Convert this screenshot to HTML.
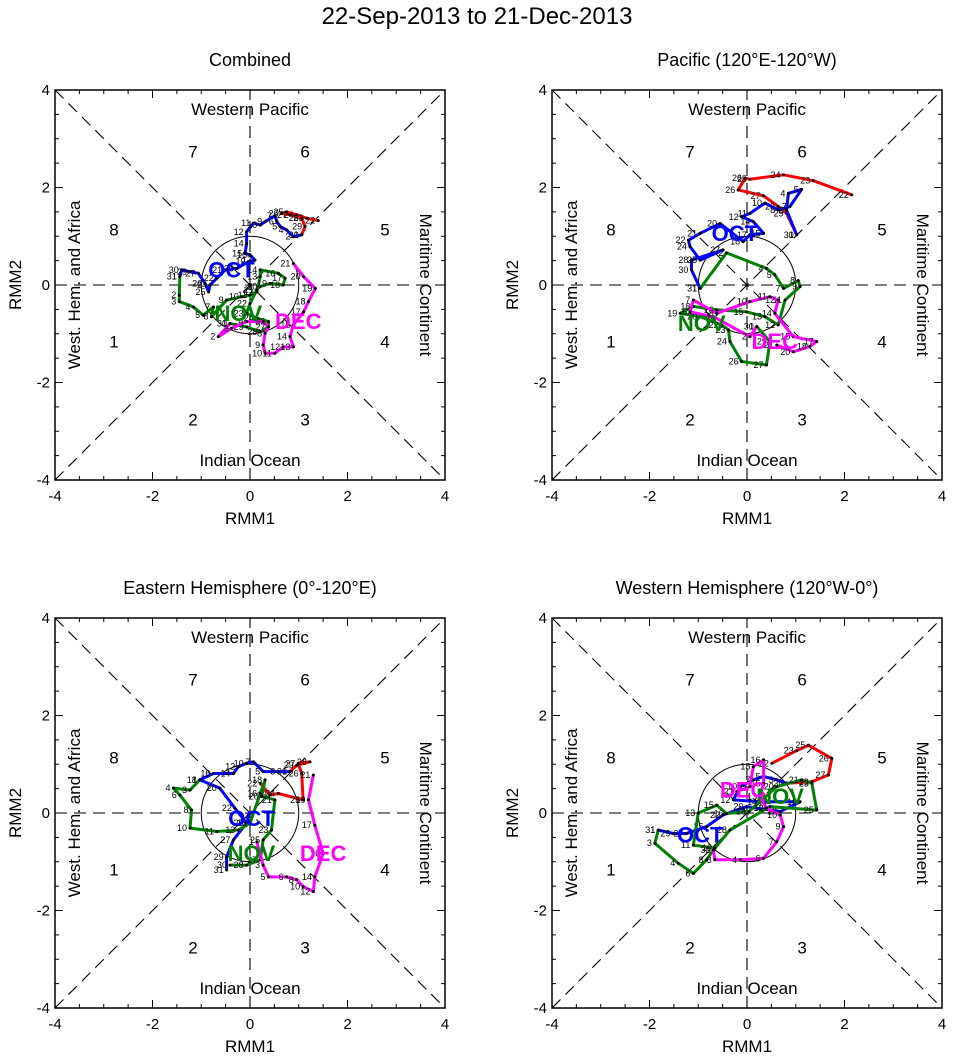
<!DOCTYPE html>
<html><head><meta charset="utf-8"><style>
body{margin:0;background:#fff;}
svg{display:block;font-family:"Liberation Sans",sans-serif;}
</style></head><body>
<svg id="c" width="954" height="1061" viewBox="0 0 954 1061">
<text x="477" y="24" font-size="24" text-anchor="middle">22-Sep-2013 to 21-Dec-2013</text>
</svg>
<script>
// Panel titles
const panelTitles = ["Combined","Pacific (120°E-120°W)","Eastern Hemisphere (0°-120°E)","Western Hemisphere (120°W-0°)"];
const tickVals = [-4,-2,0,2,4];
const tickLabels = ["-4","-2","0","2","4"];
const monthNames = ["SEP","OCT","NOV","DEC"];
const monthColors = ["#ff0000","#0000ff","#008000","#ff00ff"];
const monthStartDay = [22,1,1,1];
const monthEndDay = [30,31,30,21];

// Panel 1: Combined
const p1Sep = [[1.40,1.32],[1.16,1.37],[0.96,1.44],[0.75,1.50],[0.65,1.47],[0.82,1.44],[1.06,1.37],[1.13,1.20],[1.06,1.03]];
const p1Oct = [[1.06,1.03],[0.89,0.99],[0.75,1.13],[0.62,1.20],[0.55,1.30],[0.51,1.42],[0.31,1.30],[0.21,1.23],[0.07,1.27],[-0.07,1.09],[-0.07,0.85],[-0.10,0.65],[0,0.62],[0.10,0.51],[-0.03,0.48],[-0.27,0.34],[-0.51,0.31],[-0.68,0.14],[-0.82,0],[-0.85,-0.14],[-0.92,0.03],[-1.06,0.24],[-1.23,0.27],[-1.40,0.31],[-1.44,0.17]];
const p1Nov = [[-1.44,0.17],[-1.45,-0.21],[-1.45,-0.34],[-1.16,-0.45],[-0.96,-0.62],[-0.75,-0.45],[-0.79,-0.65],[-0.48,-0.31],[-0.17,-0.24],[0,-0.21],[0.14,-0.14],[0.21,0.17],[0.21,0.31],[0.58,0.24],[0.72,0.14],[0.68,0],[0.41,0.03],[0.21,-0.03],[0.14,-0.10],[0,-0.38],[-0.07,-0.58],[0.14,-0.68],[0.38,-0.75],[0.38,-0.86],[0.21,-0.96],[-0.07,-0.86],[-0.41,-0.79]];
const p1Dec = [[-0.41,-0.79],[-0.65,-1.06],[-0.38,-0.89],[-0.07,-0.75],[0.27,-0.75],[0.38,-0.86],[0.31,-0.99],[0.27,-1.23],[0.31,-1.40],[0.51,-1.40],[0.68,-1.27],[0.89,-1.27],[0.82,-1.06],[0.89,-0.82],[1.10,-0.55],[1.20,-0.34],[1.34,-0.07],[1.10,0.17],[0.89,0.44]];
const p1Labels = [[-0.38,0.31],[-0.24,-0.58],[0.99,-0.75]];

// Panel 2: Pacific
const p2Sep = [[2.15,1.85],[1.36,2.14],[0.75,2.26],[0.06,2.17],[-0.04,2.19],[-0.18,1.95],[0.34,1.83],[0.64,1.61],[0.81,1.47],[1.02,1.03]];
const p2Oct = [[1.02,1.03],[0.81,1.54],[0.85,1.88],[1.12,1.96],[0.88,1.61],[0.64,1.54],[0.37,1.68],[0.06,1.47],[-0.11,1.40],[0.13,1.30],[0.34,1.06],[0.06,1.03],[-0.08,0.89],[-0.55,1.26],[-0.96,1.06],[-1.20,0.92],[-1.17,0.79],[-0.96,0.51],[-0.49,0.72],[-1.14,0.51],[-1.14,0.31],[-0.96,-0.07]];
const p2Nov = [[-0.96,-0.07],[-0.42,0.66],[0.40,0.34],[0.57,0.21],[0.75,-0.07],[1.05,0.09],[1.09,-0.03],[0.78,-0.31],[0.64,-0.82],[0.37,-0.65],[-0.01,-0.55],[-0.62,-0.51],[-1.10,-0.44],[-1.37,-0.58],[-0.96,-0.65],[-0.52,-0.82],[-0.38,-0.92],[-0.35,-1.16],[-0.11,-1.57],[0.40,-1.64],[0.47,-1.16],[0.20,-0.85]];
const p2Dec = [[0.20,-0.85],[0.06,-1.06],[-0.69,-0.65],[-1.17,-0.55],[-1.10,-0.31],[-0.62,-0.58],[0.06,-0.34],[0.47,-0.24],[0.64,-0.31],[0.57,-0.58],[0.95,-1.06],[1.43,-1.16],[1.29,-1.26],[0.95,-1.37],[0.61,-1.23]];
const p2Labels = [[-0.25,1.06],[-0.93,-0.79],[0.57,-1.16]];

// Panel 3: Eastern Hemisphere
const p3Sep = [[0.21,0.61],[0.41,0.37],[0.58,0.40],[1.09,0.27],[1.06,0.81],[0.99,1.02],[1.23,1.05],[0.96,0.98],[0.82,0.85]];
const p3Oct = [[0.82,0.85],[0.58,0.85],[0.27,0.85],[0.07,1.05],[-0.07,1.02],[-0.24,0.95],[-0.34,0.81],[-0.75,0.81],[-1.03,0.68],[-0.62,0.51],[-0.31,0.10],[-0.07,-0.21],[-0.34,-0.55],[-0.48,-0.90],[-0.48,-1.17]];
const p3Nov = [[-1.03,0.68],[-1.23,0.47],[-1.57,0.51],[-1.44,0.37],[-1.20,0.06],[-1.23,-0.31],[-0.68,-0.38],[-0.24,-0.35],[0,-0.21],[0.21,0.40],[0.31,0.68],[0.24,0.34],[0.51,0.27],[0.44,-0.35],[0.27,-0.55],[0.21,-0.96],[-0.07,-1.07],[-0.41,-1.07]];
const p3Dec = [[0.14,-0.59],[0.27,-1.07],[0.38,-1.31],[0.75,-1.31],[0.96,-1.37],[1.09,-1.51],[1.30,-1.61],[1.33,-1.31],[1.50,-0.83],[1.33,-0.25],[1.20,0.27],[1.30,0.78]];
const p3Labels = [[0.03,-0.11],[0.03,-0.83],[1.50,-0.83]];

// Panel 4: Western Hemisphere
const p4Sep = [[0.51,1.02],[1.02,1.28],[1.26,1.39],[1.74,1.12],[1.67,0.78],[1.33,0.64],[0.81,0.61]];
const p4Oct = [[0.81,0.61],[0.61,0.68],[0.34,0.75],[0.13,0.68],[-0.14,0.54],[-0.28,0.27],[0.27,0.23],[1.09,0.23],[0.68,0.03],[-0.01,0.13],[-0.49,-0.04],[-0.83,-0.28],[-1.24,-0.42],[-1.51,-0.42],[-1.82,-0.35]];
const p4Nov = [[-1.82,-0.35],[-1.89,-0.62],[-1.41,-1.03],[-1.10,-1.24],[-0.83,-0.96],[-0.66,-0.72],[-1.10,-0.66],[-1.00,0],[-0.62,0.16],[-0.42,-0.01],[0.04,0.03],[0.61,0.54],[1.12,0.68],[1.33,0.61],[1.43,0.06],[0.47,0.13],[-0.35,-0.35],[-0.69,-0.76]];
const p4Dec = [[-0.69,-0.76],[-0.66,-0.96],[-0.14,-0.96],[0.34,-0.93],[0.61,-0.59],[0.75,-0.28],[0.68,-0.04],[0.40,0.10],[0.27,0.34],[0.34,0.61],[0.34,1.09],[0.13,0.95],[0.06,0.54],[-0.21,0.44]];
const p4Labels = [[-0.96,-0.45],[0.68,0.34],[-0.08,0.47]];

const panels = [
  {left:55, top:90, series:[p1Sep,p1Oct,p1Nov,p1Dec], labels:p1Labels},
  {left:552, top:90, series:[p2Sep,p2Oct,p2Nov,p2Dec], labels:p2Labels},
  {left:55, top:618, series:[p3Sep,p3Oct,p3Nov,p3Dec], labels:p3Labels},
  {left:552, top:618, series:[p4Sep,p4Oct,p4Nov,p4Dec], labels:p4Labels}
];
const SIZE = 390;
const svg = document.getElementById('c');
const NS = "http://www.w3.org/2000/svg";
function mk(tag, attrs, parent){const e=document.createElementNS(NS,tag);for(const k in attrs)e.setAttribute(k,attrs[k]);(parent||svg).appendChild(e);return e;}

panels.forEach((p,pi)=>{
  const sx = v => p.left + (v+4)/8*SIZE;
  const sy = v => p.top + (4-v)/8*SIZE;
  const g = mk('g',{});
  
  
  const t = mk('text',{x:p.left+SIZE/2,y:p.top-24,'font-size':18,'text-anchor':'middle'},g);
  t.textContent = panelTitles[pi];
  
  
  const dash = {stroke:'#000','stroke-width':1.1,'stroke-dasharray':'12,7',fill:'none'};
  [[-4,-4,4,4],[-4,4,4,-4],[-4,0,4,0],[0,-4,0,4]].forEach(l=>{
    const ln = mk('line',Object.assign({x1:sx(l[0]),y1:sy(l[1]),x2:sx(l[2]),y2:sy(l[3])},dash),g);
    
    
  });
  const c = mk('circle',{cx:sx(0),cy:sy(0),r:SIZE/8,fill:'none',stroke:'#000','stroke-width':1},g);
  
  
  const fr = mk('rect',{x:p.left,y:p.top,width:SIZE,height:SIZE,fill:'none',stroke:'#000','stroke-width':1.5},g);
  
  
  for(let v=-4; v<=4.001; v+=0.5){
    const major = Math.abs(v-Math.round(v/2)*2)<0.01;
    const L = major?8:4;
    mk('line',{x1:sx(v),y1:p.top+SIZE,x2:sx(v),y2:p.top+SIZE-L,stroke:'#000'},g);
    mk('line',{x1:sx(v),y1:p.top,x2:sx(v),y2:p.top+L,stroke:'#000'},g);
    mk('line',{x1:p.left,y1:sy(v),x2:p.left+L,y2:sy(v),stroke:'#000'},g);
    mk('line',{x1:p.left+SIZE,y1:sy(v),x2:p.left+SIZE-L,y2:sy(v),stroke:'#000'},g);
  }
  tickVals.forEach((v,i)=>{
    const tx = mk('text',{x:sx(v),y:p.top+SIZE+21,'font-size':15,'text-anchor':'middle'},g);
    tx.textContent = tickLabels[i];
    
    
    const ty = mk('text',{x:p.left-5,y:sy(v)+5,'font-size':15,'text-anchor':'end'},g);
    ty.textContent = tickLabels[i];
    
    
  });
  const xt = mk('text',{x:sx(0),y:p.top+SIZE+44,'font-size':17,'text-anchor':'middle'},g);
  xt.textContent='RMM1';
  
  
  const yt = mk('text',{x:0,y:0,'font-size':17,'text-anchor':'middle',transform:`translate(${p.left-34},${sy(0)}) rotate(-90)`},g);
  yt.textContent='RMM2';
  
  
  const reg = [["Western Pacific",0,3.6,0,'region-western-pacific'],["Indian Ocean",0,-3.6,0,'region-indian-ocean'],["West. Hem. and Africa",-3.6,0,-90,'region-west-hem-africa'],["Maritime Continent",3.6,0,90,'region-maritime-continent']];
  reg.forEach(r=>{
    const e = mk('text',{x:0,y:0,'font-size':17,'text-anchor':'middle','dominant-baseline':'central',transform:`translate(${sx(r[1])},${sy(r[2])}) rotate(${r[3]})`},g);
    e.textContent=r[0];
    
    
  });
  const phases = [["1",-2.79,-1.17],["2",-1.17,-2.77],["3",1.13,-2.77],["4",2.77,-1.17],["5",2.77,1.13],["6",1.13,2.73],["7",-1.17,2.73],["8",-2.79,1.13]];
  phases.forEach(ph=>{
    const e = mk('text',{x:sx(ph[1]),y:sy(ph[2]),'font-size':17,'text-anchor':'middle','dominant-baseline':'central'},g);
    e.textContent=ph[0];
    
    
  });
  p.series.forEach((s,si)=>{
    const pts = s.map(d=>sx(d[0])+','+sy(d[1])).join(' ');
    const pl = mk('polyline',{points:pts,fill:'none',stroke:monthColors[si],'stroke-width':3,'stroke-linejoin':'round'},g);
    
    
    const n = s.length;
    s.forEach((d,i)=>{
      const dot = mk('circle',{cx:sx(d[0]),cy:sy(d[1]),r:1.5,fill:'#000'},g);
      
      
      const day = Math.round(monthStartDay[si] + i*(monthEndDay[si]-monthStartDay[si])/Math.max(1,n-1));
      const lb = mk('text',{x:sx(d[0])-3,y:sy(d[1])+3,'font-size':9,'text-anchor':'end'},g);
      lb.textContent = day;
      
      
    });
  });
  p.labels.forEach((l,li)=>{
    const e = mk('text',{x:sx(l[0]),y:sy(l[1]),'font-size':22,'font-weight':'bold','text-anchor':'middle','dominant-baseline':'central',fill:monthColors[li+1]},g);
    e.textContent = monthNames[li+1];
    
    
  });
});
</script>
</body></html>
